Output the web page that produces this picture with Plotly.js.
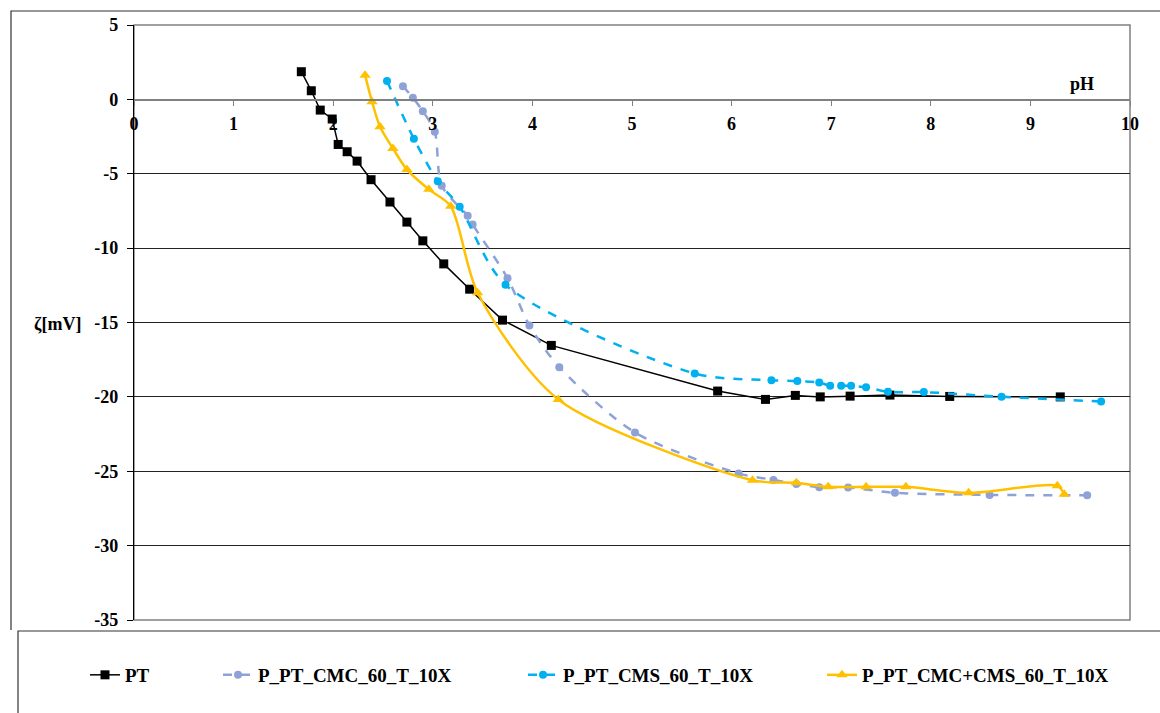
<!DOCTYPE html>
<html>
<head>
<meta charset="utf-8">
<script src="https://cdn.plot.ly/plotly-3.0.1.min.js"></script>
<style>html,body{margin:0;padding:0;background:#fff;}#chart{width:1160px;height:713px;}</style>
</head>
<body>
<div id="chart"></div>
<script>
// Series names
const seriesNames = ["PT", "P_PT_CMC_60_T_10X", "P_PT_CMS_60_T_10X", "P_PT_CMC+CMS_60_T_10X"];

// PT
const ptX = [1.68, 1.78, 1.87, 1.99, 2.05, 2.14, 2.24, 2.38, 2.57, 2.74, 2.90, 3.11, 3.37, 3.70, 4.19, 5.86, 6.34, 6.64, 6.89, 7.19, 7.59, 8.19, 9.30];
const ptY = [1.86, 0.58, -0.72, -1.32, -3.03, -3.52, -4.15, -5.40, -6.90, -8.25, -9.51, -11.06, -12.76, -14.84, -16.54, -19.61, -20.17, -19.90, -20.00, -19.95, -19.88, -19.97, -20.00];

// P_PT_CMC_60_T_10X
const cmcX = [2.70, 2.80, 2.90, 3.02, 3.09, 3.35, 3.40, 3.75, 3.97, 4.27, 5.03, 6.07, 6.42, 6.65, 6.88, 7.17, 7.64, 8.59, 9.57];
const cmcY = [0.89, 0.11, -0.79, -2.18, -5.81, -7.83, -8.41, -12.02, -15.20, -18.00, -22.39, -25.15, -25.58, -25.85, -26.07, -26.09, -26.45, -26.59, -26.61];

// P_PT_CMS_60_T_10X
const cmsX = [2.54, 2.81, 3.05, 3.27, 3.73, 5.63, 6.40, 6.66, 6.88, 6.99, 7.10, 7.20, 7.35, 7.57, 7.93, 8.71, 9.71];
const cmsY = [1.24, -2.65, -5.51, -7.22, -12.47, -18.43, -18.88, -18.94, -19.03, -19.26, -19.26, -19.26, -19.35, -19.66, -19.68, -19.99, -20.31];

// P_PT_CMC+CMS_60_T_10X
const mixX = [2.32, 2.39, 2.47, 2.60, 2.74, 2.96, 3.18, 3.45, 4.26, 6.21, 6.65, 6.97, 7.35, 7.75, 8.38, 9.27, 9.34];
const mixY = [1.63, -0.16, -1.84, -3.30, -4.72, -6.05, -7.18, -13.00, -20.17, -25.60, -25.78, -26.05, -26.05, -26.05, -26.45, -25.98, -26.54];

// Axis ticks
const xTicks = [0, 1, 2, 3, 4, 5, 6, 7, 8, 9, 10];
const yTicks = [5, 0, -5, -10, -15, -20, -25, -30, -35];

const FONT = "'Liberation Serif', 'Times New Roman', serif";

const traces = [
  {x: ptX, y: ptY, name: seriesNames[0], mode: "lines+markers", legend: "legend", showlegend: true,
   line: {color: "#000000", width: 1.5},
   marker: {symbol: "square", size: 9, color: "#000000"}},
  {x: cmcX, y: cmcY, name: seriesNames[1], mode: "lines+markers", legend: "legend2", showlegend: true,
   line: {color: "#8FA2D8", width: 2.5, dash: "dash", shape: "spline", smoothing: 0.8},
   marker: {symbol: "circle", size: 8, color: "#8FA2D8"}},
  {x: cmsX, y: cmsY, name: seriesNames[2], mode: "lines+markers", legend: "legend3", showlegend: true,
   line: {color: "#00B0F0", width: 2.5, dash: "dash", shape: "spline", smoothing: 0.8},
   marker: {symbol: "circle", size: 8, color: "#00B0F0"}},
  {x: mixX, y: mixY, name: seriesNames[3], mode: "lines+markers", legend: "legend4", showlegend: true,
   line: {color: "#FFC000", width: 2.5, shape: "spline", smoothing: 0.8},
   marker: {symbol: "triangle-up", size: 10, color: "#FFC000"}}
];

const legendBase = {orientation: "h", y: -0.0924, yanchor: "middle", xanchor: "left", visible: true,
  bgcolor: "rgba(0,0,0,0)", font: {family: FONT, size: 19, color: "#000", weight: "bold"}};

// paper coordinate helpers (plot area: x 134..1130, y 25..620)
const px = v => (v - 134) / 996;
const py = v => (620 - v) / 595;

const layout = {
  width: 1160, height: 713,
  showlegend: true,
  margin: {l: 134, r: 30, t: 25, b: 93},
  paper_bgcolor: "#ffffff", plot_bgcolor: "#ffffff",
  font: {family: FONT, size: 18, color: "#000"},
  xaxis: {range: [0, 10], tickvals: xTicks, ticktext: xTicks.map(String),
    anchor: "free", position: 0.875, showline: true, linecolor: "#808080", linewidth: 1.5,
    ticks: "outside", ticklen: 5, tickcolor: "#808080", showgrid: false, zeroline: false,
    tickfont: {family: FONT, size: 18, weight: "bold"}, ticklabelstandoff: 3},
  yaxis: {range: [-35, 5], tickvals: yTicks, ticktext: yTicks.map(String),
    showline: true, linecolor: "#000000", linewidth: 1.2,
    ticks: "outside", ticklen: 6, tickcolor: "#000",
    showgrid: true, gridcolor: "#222222", gridwidth: 1,
    zeroline: true, zerolinecolor: "#808080", zerolinewidth: 1.5,
    tickfont: {family: FONT, size: 18, weight: "bold"}, ticklabelstandoff: 5},
  legend: Object.assign({}, legendBase, {x: px(85)}),
  legend2: Object.assign({}, legendBase, {x: px(218)}),
  legend3: Object.assign({}, legendBase, {x: px(523)}),
  legend4: Object.assign({}, legendBase, {x: px(822)}),
  shapes: [
    // plot area border (gray)
    {type: "rect", xref: "paper", yref: "paper", x0: 0, x1: 1, y0: 0, y1: 1,
     line: {color: "#808080", width: 1.5}, layer: "between"},
    // outer chart frame
    {type: "path", xref: "paper", yref: "paper",
     path: `M ${px(11)} ${py(630)} L ${px(11)} ${py(11)} L ${px(1162)} ${py(11)}`,
     line: {color: "#333333", width: 1.2}},
    // legend box
    {type: "path", xref: "paper", yref: "paper",
     path: `M ${px(1162)} ${py(631)} L ${px(18)} ${py(631)} L ${px(18)} ${py(716)}`,
     line: {color: "#333333", width: 1.2}}
  ],
  annotations: [
    {text: "pH", xref: "paper", yref: "paper", x: px(1082), y: py(84), showarrow: false,
     xanchor: "center", yanchor: "middle", font: {family: FONT, size: 18, weight: "bold"}},
    {text: "ζ[mV]", xref: "paper", yref: "paper", x: px(57), y: py(324), showarrow: false,
     xanchor: "center", yanchor: "middle", font: {family: FONT, size: 18, weight: "bold"}}
  ]
};

Plotly.newPlot("chart", traces, layout, {displayModeBar: false, staticPlot: true});
</script>
</body>
</html>
